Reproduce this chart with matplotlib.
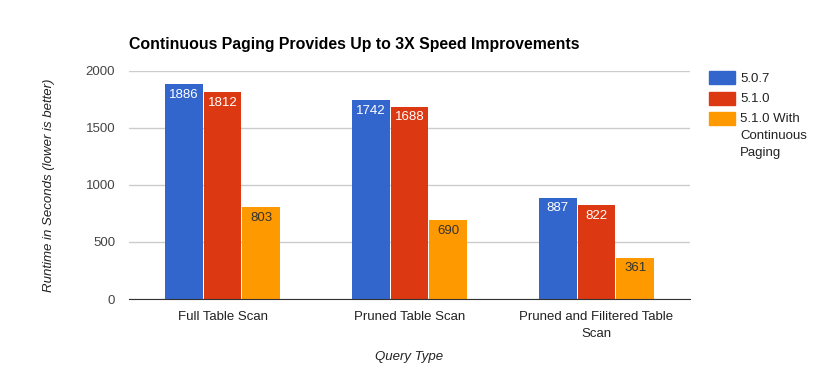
import numpy as np
import matplotlib
matplotlib.use("Agg")
import matplotlib.pyplot as plt
import matplotlib.patches as patches

plt.rcParams['font.family'] = ['Liberation Sans', 'DejaVu Sans']

# data
categories = ['Full Table Scan', 'Pruned Table Scan', 'Pruned and Filitered Table\nScan']
series_names = ['5.0.7', '5.1.0', '5.1.0 With\nContinuous\nPaging']
v507 = [1886, 1742, 887]
v510 = [1812, 1688, 822]
v510_cp = [803, 690, 361]
colors = ['#3366CC', '#DC3912', '#FF9900']
label_colors = ['white', 'white', '#333333']

W, H = 825, 371
fig = plt.figure(figsize=(W/100, H/100), dpi=100)
ax = fig.add_axes([129/W, 1-299/H, 561/W, 228/H])

x = np.arange(len(categories))
w = 0.208
all_vals = [v507, v510, v510_cp]
for i, vals in enumerate(all_vals):
    pos = x + (i - 1) * w
    ax.bar(pos, vals, width=w - 0.005, color=colors[i], zorder=3)
    for xb, v in zip(pos, vals):
        ax.text(xb, v - 40, str(v), ha='center', va='top', color=label_colors[i], fontsize=9.5, zorder=4)

ax.set_xlim(-0.5, 2.5)
ax.set_ylim(0, 2000)
ax.set_yticks([0, 500, 1000, 1500, 2000])
ax.set_xticks(x)
ax.set_xticklabels(categories, fontsize=9.5, color='#222222', linespacing=1.45)
ax.tick_params(axis='y', labelsize=9.5, labelcolor='#444444', length=0, pad=10)
ax.tick_params(axis='x', length=0, pad=9)
ax.grid(axis='y', color='#cccccc', linewidth=1, zorder=0)
for s in ['top', 'right', 'left']:
    ax.spines[s].set_visible(False)
ax.spines['bottom'].set_color('#333333')
ax.spines['bottom'].set_zorder(5)

ax.set_ylabel('Runtime in Seconds (lower is better)', fontstyle='italic', fontsize=9.5, color='#222222', labelpad=22)
ax.set_xlabel('Query Type', fontstyle='italic', fontsize=9.5, color='#222222', labelpad=8)

fig.text(129/W, 1-44/H, 'Continuous Paging Provides Up to 3X Speed Improvements',
         fontsize=11.4, fontweight='bold', va='center', ha='left')

# legend drawn by hand, Google Charts style
leg_top = [71, 92, 112]
for i, name in enumerate(series_names):
    y0 = leg_top[i]
    fig.patches.append(patches.Rectangle((709/W, 1-(y0+13)/H), 26/W, 13/H,
                                         transform=fig.transFigure, color=colors[i]))
    fig.text(740/W, 1-(y0+1.5)/H, name, fontsize=9.5, color='#222222',
             va='top', ha='left', linespacing=1.55)

fig.savefig('out.png', dpi=100)
